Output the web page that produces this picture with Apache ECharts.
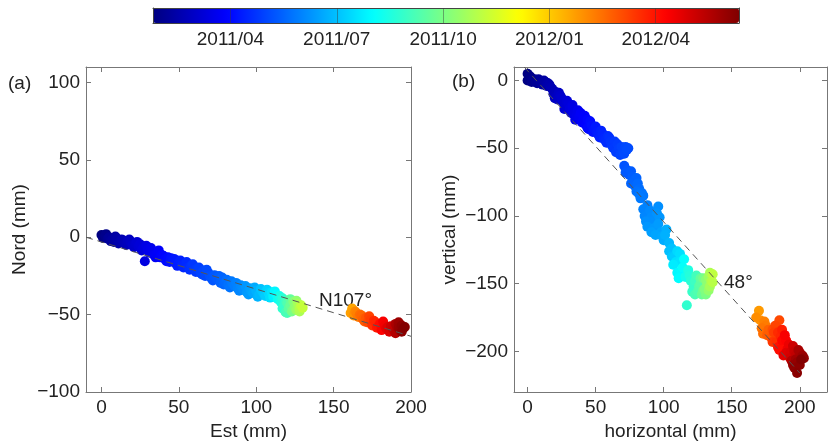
<!DOCTYPE html>
<html>
<head>
<meta charset="utf-8">
<script src="https://cdn.jsdelivr.net/npm/echarts@6/dist/echarts.min.js"></script>
<style>
  html, body { margin: 0; padding: 0; background: #fff; }
  #chart { width: 833px; height: 443px; }
</style>
</head>
<body>
<div id="chart"></div>
<script>
// colorbar: months counted from 2011/01
const cbMin = 0.815;
const cbMax = 17.35;
const cbTicks = [3, 6, 9, 12, 15];
const cbLabels = ['2011/04', '2011/07', '2011/10', '2012/01', '2012/04'];
const jet = ['#000080', '#0000ff', '#0080ff', '#00ffff', '#80ff80', '#ffff00', '#ff8000', '#ff0000', '#800000'];

// (a) Est / Nord (mm), month
const pointsA = [
  [0, 1.5, 0.8], [1, -0.5, 0.9], [2.5, 1, 1.0], [4, -1, 1.1], [5, 0, 1.2], [7, -1.5, 1.3], [8, -3, 1.35],
  [10, -1, 1.45], [12, -3, 1.55], [13, -1.5, 1.6], [15, -4, 1.7], [17, -2.5, 1.8], [19, -3, 1.9], [20, -5, 2.0],
  [22, -4, 2.1], [24, -6, 2.2], [25, -4.5, 2.25], [27, -7, 2.35], [28, -15.5, 2.4], [29, -5.5, 2.45], [30, -8, 2.5],
  [31, -10, 2.55], [33, -9, 2.6], [34, -11.5, 2.7], [36, -10.5, 2.75], [38, -13, 2.85], [39, -11.5, 2.9], [41, -14, 3.0],
  [43, -13, 3.05], [44, -16, 3.1], [46, -15, 3.2], [48, -17, 3.3], [50, -16, 3.35], [52, -18, 3.45], [54, -17, 3.5],
  [56, -19.5, 3.6], [58, -18.5, 3.7], [60, -21, 3.8], [62, -20, 3.85], [64, -23, 3.95], [66, -21.5, 4.0], [67, -25, 4.05],
  [69, -23, 4.1], [71, -26.5, 4.2], [73, -24.5, 4.3], [75, -27, 4.35], [77, -29.5, 4.45], [78, -26, 4.5], [80, -29, 4.6],
  [82, -31, 4.7], [84, -28.5, 4.8], [86, -31.5, 4.9], [88, -33, 5.0], [90, -31, 5.1], [92, -34, 5.2], [94, -35.5, 5.35],
  [96, -33, 5.45], [98, -36, 5.6], [100, -34.5, 5.75], [102, -37, 5.9], [104, -35, 6.05], [106, -38, 6.2], [108, -36, 6.4],
  [110, -35.5, 6.6], [111, -38.5, 6.8], [113, -37, 7.0], [114, -40, 7.2], [116, -42, 7.5], [117, -39.5, 7.7], [118, -44, 7.9],
  [119, -48.5, 8.1], [120, -42.5, 8.3], [121, -46, 8.5], [122, -44, 8.7], [123, -48, 8.9], [124, -41.5, 9.1], [125, -45, 9.3],
  [126, -47, 9.5], [127, -43, 9.7], [128, -46, 9.9], [129, -44, 10.1],
  [3, 2, 0.95], [6, -2.5, 1.25], [9, 0.5, 1.4], [11, -4, 1.5], [14, -2, 1.65], [16, -5, 1.75], [18, -1.5, 1.85],
  [21, -6.5, 2.05], [23, -3, 2.15], [26, -8.5, 2.3], [32, -7, 2.58], [35, -13, 2.72], [37, -8.5, 2.8], [40, -12, 2.95],
  [42, -15.5, 3.02], [45, -13.5, 3.15], [47, -14, 3.25], [49, -18.5, 3.32], [51, -15, 3.4], [53, -19.5, 3.48], [55, -16, 3.55],
  [57, -21, 3.65], [59, -17.5, 3.75], [61, -22.5, 3.82], [63, -19.5, 3.9], [65, -24, 3.98], [68, -21, 4.08], [70, -25, 4.15],
  [72, -28, 4.25], [74, -26, 4.32], [76, -25, 4.4], [79, -30.5, 4.55], [81, -27.5, 4.65], [83, -32.5, 4.75], [85, -30, 4.85],
  [87, -29.5, 4.95], [89, -34.5, 5.05], [91, -33, 5.15], [93, -31.5, 5.3], [95, -37, 5.4], [97, -35, 5.5], [99, -32.5, 5.65],
  [101, -38.5, 5.8], [103, -33.5, 6.0], [105, -36.5, 6.1], [107, -34, 6.3], [109, -39, 6.5], [112, -35, 6.9], [115, -38, 7.4],
  [117, -46, 7.8], [119, -41, 8.0], [120, -49, 8.2], [122, -40, 8.6], [124, -46.5, 9.0], [126, -41, 9.4], [128, -48, 9.8],
  [130, -45.5, 10.2],
  [161, -49, 12.7], [163, -50.5, 12.9], [164, -48, 13.1], [166, -51.5, 13.3], [167, -50, 13.5], [169, -53, 13.7], [171, -52, 13.9],
  [172, -55, 14.1], [174, -53.5, 14.3], [175, -57, 14.5], [177, -55, 14.7], [178, -58.5, 14.9], [180, -56, 15.1], [181, -60, 15.3],
  [183, -57, 15.5], [184, -59, 15.7], [186, -61, 15.9], [187, -57.5, 16.1], [189, -60, 16.3], [190, -62, 16.5], [191, -58, 16.7],
  [192, -55, 16.9], [193, -60, 17.0], [194, -57, 17.1], [195, -59, 17.2],
  [162, -46, 12.6], [165, -49.5, 13.2], [168, -50.5, 13.6], [170, -54.5, 13.8], [173, -51, 14.2], [176, -54, 14.6],
  [179, -57.5, 15.0], [182, -54.5, 15.4], [185, -58, 15.8], [188, -59, 16.2], [190, -56, 16.6], [192, -58.5, 16.95],
  [194, -61, 17.15], [196, -58, 17.3]
];

// (b) horizontal / vertical (mm), month
const pointsB = [
  [0, 5, 0.8], [0, 0, 0.85], [1, 2, 0.9], [3, -1, 1.0], [5, 1, 1.05], [7, -2, 1.15], [9, 0, 1.2], [11, -3, 1.3],
  [13, -1, 1.4], [14, -4, 1.5], [16, -3, 1.55], [18, -6, 1.65], [19, -10, 1.75], [21, -12, 1.85], [22, -14, 1.95],
  [24, -11, 2.0], [26, -16, 2.1], [28, -19, 2.2], [29, -15, 2.25], [31, -21, 2.35], [33, -18, 2.4], [34, -25, 2.5],
  [35, -29, 2.55], [37, -22, 2.6], [38, -27, 2.7], [40, -31, 2.8], [42, -26, 2.85], [43, -33, 2.9], [45, -36, 3.0],
  [46, -30, 3.05], [48, -38, 3.15], [50, -34, 3.25], [52, -40, 3.35], [54, -37, 3.4], [56, -43, 3.5], [58, -46, 3.6],
  [60, -42, 3.65], [62, -48, 3.75], [64, -45, 3.8], [65, -53, 3.85], [67, -50, 3.9], [68, -55, 3.95], [70, -52, 4.0],
  [72, -49, 4.05], [73, -51, 4.1],
  [2, 3, 0.9], [4, 1, 1.05], [6, -1, 1.1], [8, 1, 1.2], [10, -2, 1.25], [12, 0, 1.35], [15, -2, 1.5], [17, -5, 1.6],
  [20, -8, 1.7], [20, -13, 1.8], [23, -9, 1.9], [25, -13, 2.05], [27, -15, 2.15], [27, -21, 2.2], [30, -17, 2.3],
  [32, -24, 2.4], [33, -20, 2.45], [36, -26, 2.6], [39, -24, 2.75], [41, -29, 2.8], [44, -29, 2.95], [44, -35, 3.0],
  [47, -33, 3.1], [49, -36, 3.2], [51, -38, 3.3], [53, -42, 3.4], [55, -39, 3.45], [57, -44, 3.55], [59, -41, 3.6],
  [61, -45, 3.7], [63, -50, 3.8], [66, -47, 3.85], [69, -49, 3.98], [71, -54, 4.05], [74, -50, 4.1],
  [71, -63, 4.2], [73, -66, 4.25], [75, -70, 4.3], [76, -67, 4.35], [78, -74, 4.45], [80, -72, 4.5], [79, -78, 4.55],
  [82, -80, 4.65], [84, -83, 4.75], [83, -87, 4.85],
  [72, -68, 4.3], [77, -71, 4.4], [76, -76, 4.5], [81, -76, 4.6], [80, -82, 4.7], [85, -85, 4.8], [82, -84, 4.8],
  [88, -92, 4.95], [86, -100, 5.05], [90, -96, 5.1], [92, -104, 5.2], [95, -98, 5.25], [88, -108, 5.3], [96, -106, 5.4],
  [98, -112, 5.5], [94, -114, 5.55], [100, -118, 5.65], [102, -110, 5.7], [104, -120, 5.85],
  [85, -95, 5.0], [91, -101, 5.15], [87, -104, 5.2], [93, -109, 5.35], [97, -101, 5.3], [99, -115, 5.6], [91, -112, 5.45],
  [89, -98, 5.05], [96, -93, 5.2], [101, -114, 5.75],
  [106, -124, 6.0], [108, -130, 6.2], [110, -126, 6.4], [112, -134, 6.6], [107, -136, 6.7], [110, -142, 6.9], [114, -138, 7.1],
  [116, -145, 7.3], [118, -140, 7.5], [120, -148, 7.7], [117, -166, 7.8], [122, -152, 7.9], [124, -144, 8.1], [125, -156, 8.3],
  [127, -150, 8.5], [128, -158, 8.7], [129, -146, 8.9], [130, -154, 9.1], [132, -150, 9.3], [133, -145, 9.5], [134, -152, 9.7],
  [135, -148, 9.9], [136, -143, 10.1],
  [104, -126, 5.95], [106, -130, 6.1], [109, -134, 6.5], [112, -128, 6.5], [113, -140, 6.95], [111, -146, 7.0], [115, -132, 7.05],
  [119, -144, 7.6], [121, -156, 7.9], [123, -148, 8.0], [126, -152, 8.4], [123, -158, 8.2], [127, -146, 8.6], [129, -155, 8.8],
  [131, -147, 9.2], [131, -158, 9.0], [133, -155, 9.4], [136, -149, 10.0], [134, -142, 9.8],
  [170, -170, 12.8], [168, -175, 13.0], [175, -181, 13.3], [173, -187, 13.5], [177, -184, 13.7], [179, -190, 13.9], [185, -177, 14.1],
  [181, -186, 14.3], [183, -193, 14.5], [186, -189, 14.7], [188, -195, 14.9], [185, -199, 15.1], [190, -192, 15.3], [191, -198, 15.5],
  [188, -203, 15.7], [193, -201, 15.9], [195, -196, 16.1], [197, -203, 16.3], [194, -207, 16.5], [199, -199, 16.7], [202, -203, 16.9],
  [198, -208, 17.0], [196, -212, 17.1], [198, -216, 17.2], [201, -206, 17.3],
  [171, -177, 12.9], [174, -178, 13.2], [172, -183, 13.4], [176, -188, 13.8], [180, -184, 14.0], [182, -181, 14.2], [184, -186, 14.6],
  [187, -184, 14.8], [180, -193, 14.4], [184, -197, 15.0], [187, -192, 15.2], [189, -188, 15.4], [192, -195, 15.6], [190, -201, 15.8],
  [193, -205, 16.0], [196, -200, 16.2], [200, -201, 16.6], [197, -206, 16.8], [203, -205, 17.05], [200, -210, 17.15], [195, -210, 17.0]
];

// fitted directions (dashed)
const lineA = [[-10, 0], [200, -64]];
const lineB = [[-2.5, 10], [200, -216]];

const ticksA = [0, 50, 100, 150, 200];
const ticksAy = [-100, -50, 0, 50, 100];
const ticksBx = [0, 50, 100, 150, 200];
const ticksBy = [-200, -150, -100, -50, 0];

const font = 'Liberation Sans, Arial, sans-serif';
const txt = '#222';
const axisCol = '#777';

// later points drawn on top
const byTime = (a, b) => a[2] - b[2];

function mainAxis(grid, pos, min, max, ticks, name, gap) {
  return {
    type: 'value', gridIndex: grid, position: pos, min: min, max: max,
    name: name, nameLocation: 'middle', nameGap: gap,
    nameTextStyle: { fontFamily: font, fontSize: 19, color: txt },
    axisLine: { show: true, onZero: false, lineStyle: { color: axisCol, width: 1 } },
    axisTick: { show: true, inside: true, length: 5, customValues: ticks, lineStyle: { color: axisCol } },
    axisLabel: { show: true, customValues: ticks, margin: 6, fontFamily: font, fontSize: 19, color: txt,
      formatter: v => (v < 0 ? '\u2212' + Math.abs(v) : '' + v) },
    splitLine: { show: false }
  };
}
function sideAxis(grid, pos, min, max, ticks) {
  return {
    type: 'value', gridIndex: grid, position: pos, min: min, max: max,
    axisLine: { show: true, onZero: false, lineStyle: { color: axisCol, width: 1 } },
    axisTick: { show: true, inside: true, length: 5, customValues: ticks, lineStyle: { color: axisCol } },
    axisLabel: { show: false },
    splitLine: { show: false }
  };
}

const chart = echarts.init(document.getElementById('chart'), null, { renderer: 'canvas' });
chart.setOption({
  animation: false,
  backgroundColor: '#fff',
  grid: [
    { left: 86, top: 67, width: 325, height: 325, containLabel: false, outerBoundsMode: 'none' },
    { left: 514, top: 67, width: 313, height: 325, containLabel: false, outerBoundsMode: 'none' },
    { left: 153, top: 8, width: 586, height: 15, containLabel: false, outerBoundsMode: 'none' }
  ],
  xAxis: [
    mainAxis(0, 'bottom', -10, 200, ticksA, 'Est (mm)', 28),
    sideAxis(0, 'top', -10, 200, ticksA),
    mainAxis(1, 'bottom', -10, 220, ticksBx, 'horizontal (mm)', 26),
    sideAxis(1, 'top', -10, 220, ticksBx),
    {
      type: 'value', gridIndex: 2, position: 'bottom', min: cbMin, max: cbMax, z: 10,
      axisLine: { show: true, onZero: false, lineStyle: { color: '#444', width: 1 } },
      axisTick: { show: true, inside: true, length: 15, customValues: cbTicks, lineStyle: { color: 'rgba(60,60,60,0.45)' } },
      axisLabel: { show: true, customValues: cbTicks, margin: 7, fontFamily: font, fontSize: 19, color: txt,
        formatter: v => cbLabels[cbTicks.indexOf(v)] },
      splitLine: { show: false }
    },
    {
      type: 'value', gridIndex: 2, position: 'top', min: cbMin, max: cbMax, z: 10,
      axisLine: { show: true, onZero: false, lineStyle: { color: '#444', width: 1 } },
      axisTick: { show: false }, axisLabel: { show: false }, splitLine: { show: false }
    }
  ],
  yAxis: [
    mainAxis(0, 'left', -100, 110, ticksAy, 'Nord (mm)', 57),
    sideAxis(0, 'right', -100, 110, ticksAy),
    mainAxis(1, 'left', -230, 10, ticksBy, 'vertical (mm)', 55),
    sideAxis(1, 'right', -230, 10, ticksBy),
    {
      type: 'value', gridIndex: 2, position: 'left', min: 0, max: 1, z: 10,
      axisLine: { show: true, lineStyle: { color: '#444', width: 1 } },
      axisTick: { show: false }, axisLabel: { show: false }, splitLine: { show: false }
    },
    {
      type: 'value', gridIndex: 2, position: 'right', min: 0, max: 1, z: 10,
      axisLine: { show: true, lineStyle: { color: '#444', width: 1 } },
      axisTick: { show: false }, axisLabel: { show: false }, splitLine: { show: false }
    }
  ],
  visualMap: {
    type: 'continuous',
    orient: 'horizontal',
    min: cbMin, max: cbMax,
    dimension: 2,
    seriesIndex: [0, 2],
    calculable: false,
    hoverLink: false,
    text: null,
    padding: 0,
    left: 153, top: 8,
    itemWidth: 15, itemHeight: 586,
    inRange: { color: jet }
  },
  series: [
    {
      type: 'scatter', xAxisIndex: 0, yAxisIndex: 0, data: pointsA.slice().sort(byTime),
      symbolSize: 10, itemStyle: { opacity: 1 }
    },
    {
      type: 'line', xAxisIndex: 0, yAxisIndex: 0, data: lineA, showSymbol: false, symbol: 'none', z: 3,
      lineStyle: { color: '#555', width: 1, type: [7, 5] }
    },
    {
      type: 'scatter', xAxisIndex: 2, yAxisIndex: 2, data: pointsB.slice().sort(byTime),
      symbolSize: 10, itemStyle: { opacity: 1 }
    },
    {
      type: 'line', xAxisIndex: 2, yAxisIndex: 2, data: lineB, showSymbol: false, symbol: 'none', z: 3,
      lineStyle: { color: '#555', width: 1, type: [7, 5] }
    }
  ],
  graphic: [
    { type: 'text', left: 8, top: 74, style: { text: '(a)', fontFamily: font, fontSize: 19, fill: txt } },
    { type: 'text', left: 452, top: 72, style: { text: '(b)', fontFamily: font, fontSize: 19, fill: txt } },
    { type: 'text', left: 319, top: 291, style: { text: 'N107°', fontFamily: font, fontSize: 19, fill: txt } },
    { type: 'text', left: 724, top: 273, style: { text: '48°', fontFamily: font, fontSize: 19, fill: txt } }
  ]
});
</script>
</body>
</html>
